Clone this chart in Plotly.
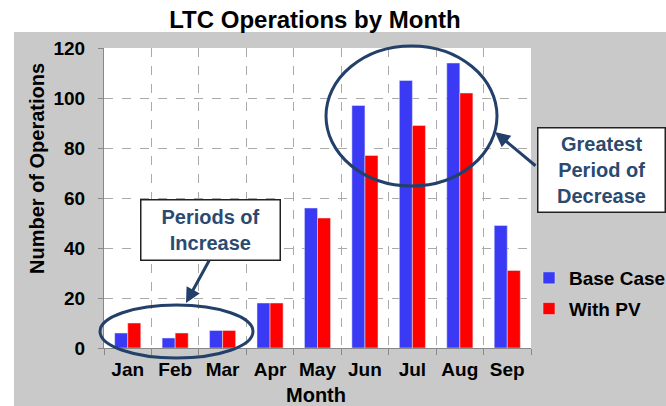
import plotly.graph_objects as go

# chart data
months = ["Jan", "Feb", "Mar", "Apr", "May", "Jun", "Jul", "Aug", "Sep"]
base_case = [6, 4, 7, 18, 56, 97, 107, 114, 49]
with_pv = [10, 6, 7, 18, 52, 77, 89, 102, 31]
y_ticks = [0, 20, 40, 60, 80, 100, 120]

W, H = 666, 406
L, R, T, B = 104, 531, 48, 348  # plot area in pixels

FONT = "Arial, Liberation Sans, sans-serif"
NAVY = "#23406A"
TXT = "#2B4A70"


def xp(px):
    # pixel x -> paper x
    return (px - L) / (R - L)


def yp(py):
    # pixel y -> paper y
    return (B - py) / (B - T)


fig = go.Figure()
fig.add_trace(go.Bar(x=months, y=base_case, name="Base Case",
                     marker_color="#3A3AF4", legendgroup="a"))
fig.add_trace(go.Bar(x=months, y=with_pv, name="With PV",
                     marker_color="#FF0000", legendgroup="b"))

fig.update_layout(
    width=W, height=H,
    margin=dict(l=L, r=W - R, t=T, b=H - B, autoexpand=False),
    paper_bgcolor="#C9C9C9",
    plot_bgcolor="white",
    barmode="group",
    bargap=0.45,
    bargroupgap=0,
    font=dict(family=FONT, color="black"),
    title=dict(text="LTC Operations by Month", x=xp(315), xref="paper",
               y=1 - 20 / H, yref="container", xanchor="center", yanchor="middle",
               font=dict(size=24, weight="bold", color="black")),
    legend=dict(x=xp(529), y=yp(259), xanchor="left", yanchor="top",
                bgcolor="rgba(0,0,0,0)", font=dict(size=19, weight="bold"),
                tracegroupgap=3, traceorder="grouped"),
)

fig.update_xaxes(
    tickson="boundaries", ticks="outside", ticklen=6, tickcolor="#888",
    showline=True, linecolor="#888", linewidth=1,
    showgrid=True, gridcolor="#aaa", griddash="dash", gridwidth=1,
    tickfont=dict(size=19, weight="bold"), ticklabelstandoff=4,
)
fig.update_yaxes(
    range=[0, 120], tickvals=y_ticks, ticks="outside", ticklen=5, tickcolor="#888",
    showline=True, linecolor="#888", linewidth=1,
    showgrid=True, gridcolor="#aaa", griddash="dash", gridwidth=1,
    tickfont=dict(size=19, weight="bold"), ticklabelstandoff=9,
    zeroline=False,
)

# white strips outside the grey chart frame
fig.add_shape(type="rect", xref="paper", yref="paper", layer="below",
              x0=xp(0), x1=xp(W), y0=yp(32), y1=yp(0),
              fillcolor="white", line_width=0)
fig.add_shape(type="rect", xref="paper", yref="paper", layer="below",
              x0=xp(0), x1=xp(14), y0=yp(H), y1=yp(32),
              fillcolor="white", line_width=0)

# axis titles
fig.add_annotation(text="Number of Operations", xref="paper", yref="paper",
                   x=xp(37), y=yp(169), xanchor="center", yanchor="middle",
                   textangle=-90, showarrow=False,
                   font=dict(size=20, weight="bold", color="black"))
fig.add_annotation(text="Month", xref="paper", yref="paper",
                   x=xp(316), y=yp(395), xanchor="center", yanchor="middle",
                   showarrow=False,
                   font=dict(size=20, weight="bold", color="black"))

# highlight ellipses
fig.add_shape(type="circle", xref="paper", yref="paper",
              x0=xp(100), x1=xp(253), y0=yp(358), y1=yp(305),
              line=dict(color=NAVY, width=3))
fig.add_shape(type="circle", xref="paper", yref="paper",
              x0=xp(326), x1=xp(497), y0=yp(186), y1=yp(46),
              line=dict(color=NAVY, width=3))

# callout boxes
fig.add_annotation(text="Periods of<br>Increase", xref="paper", yref="paper",
                   x=xp(210), y=yp(229.5), xanchor="center", yanchor="middle",
                   showarrow=False, width=136, height=57, borderpad=1,
                   bgcolor="white", bordercolor="#222", borderwidth=1.5,
                   font=dict(size=20, weight="bold", color=TXT))
fig.add_annotation(text="Greatest<br>Period of<br>Decrease", xref="paper", yref="paper",
                   x=xp(601), y=yp(169.5), xanchor="center", yanchor="middle",
                   showarrow=False, width=124, height=81, borderpad=1,
                   bgcolor="white", bordercolor="#222", borderwidth=1.5,
                   font=dict(size=20, weight="bold", color=TXT))

# arrows
fig.add_annotation(text="", xref="paper", yref="paper",
                   x=xp(186), y=yp(303), ax=24, ay=-44,
                   showarrow=True, arrowhead=2, arrowsize=1, arrowwidth=3,
                   arrowcolor=NAVY)
fig.add_annotation(text="", xref="paper", yref="paper",
                   x=xp(495), y=yp(132), ax=42, ay=35,
                   showarrow=True, arrowhead=2, arrowsize=1, arrowwidth=3,
                   arrowcolor=NAVY)

fig.write_html("out.html", config={"displayModeBar": False},
               post_script="document.body.style.margin='0';")
